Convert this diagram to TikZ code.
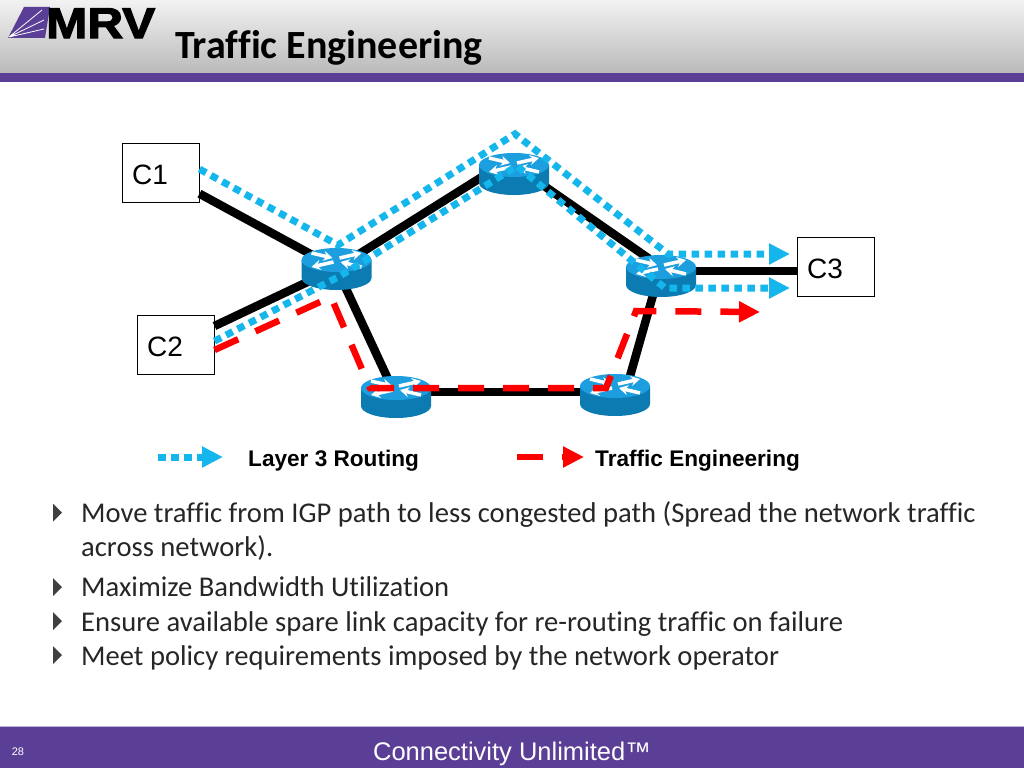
\documentclass[tikz,border=0pt]{standalone}
\usepackage{fontspec}
\setmainfont[Ligatures=NoCommon]{Carlito}
\newfontfamily\arialfont{Liberation Sans}
\newfontfamily\logofont[FakeBold=3,FakeStretch=1.15]{Liberation Sans Bold}
\usetikzlibrary{arrows.meta,shadings}
\definecolor{mrvpurple}{HTML}{5B3E96}
\definecolor{routecyan}{HTML}{14B6EC}
\definecolor{routertop}{HTML}{1D9EDF}
\definecolor{routerside}{HTML}{0B7BB2}
\newcommand{\custlabel}[1]{\hspace*{-21pt}#1}
\tikzset{
  custbox/.style={draw=black, line width=1pt, fill=white, minimum width=77pt, minimum height=59pt, inner sep=0pt, text height=23.5pt, text depth=0pt, font=\arialfont\fontsize{28}{30}\selectfont},
  routernode/.style={minimum width=24pt, minimum height=16pt, inner sep=0pt},
  link/.style={line width=8.5pt, black},
  igppath/.style={line width=7pt, routecyan, dash pattern=on 7.5pt off 5.5pt, -{Triangle[length=21pt,width=20pt]}},
  tepath/.style={line width=6.5pt, red, dash pattern=on 26pt off 19pt, -{Triangle[length=21pt,width=20pt]}},
  legendtext/.style={anchor=base west, inner sep=0pt, font=\arialfont\bfseries\fontsize{22.6}{26}\selectfont},
  bullettext/.style={anchor=base west, inner sep=0pt, text=black!85, font=\fontsize{28.6}{30}\selectfont},
  routerarrow/.style={white, line width=3.5pt, -{Stealth[length=9pt,width=10pt]}},
  pics/routericon/.style={code={
    \fill[routerside] (-35,0) -- (-35,18) arc[start angle=180, end angle=0, x radius=35, y radius=12] -- (35,0) -- cycle;
    \fill[routertop] (0,0) ellipse[x radius=35, y radius=12];
    \draw[routerarrow] (-25,-7) -- (-4,-2);
    \draw[routerarrow] (25,7) -- (4,2);
    \draw[routerarrow] (3,-2) -- (25,-7);
    \draw[routerarrow] (-3,2) -- (-25,7);
  }}
}
\begin{document}
\begin{tikzpicture}[x=1pt, y=-1pt]
  \useasboundingbox (0,0) rectangle (1024,768);

  % Header and footer bands
  \shade[top color=black!5, bottom color=black!27] (0,0) rectangle (1024,73);
  \fill[mrvpurple] (0,73) rectangle (1024,82);
  \fill[mrvpurple!40] (0,726) rectangle (1024,727);
  \fill[mrvpurple] (0,727) rectangle (1024,768);

  % Logo
  \fill[mrvpurple] (8,38) -- (24,7) -- (50,7) -- (45,38) -- cycle;
  \draw[white, line width=0.8pt] (9,37) -- (42,10) (9,37) -- (44,20) (9,37) -- (44,29);
  \node[anchor=base west, inner sep=0pt] (logo) at (46,38) {\logofont\fontsize{43}{43}\selectfont MRV};

  % Title and footer text
  \node[anchor=base west, inner sep=0pt, font=\bfseries\fontsize{40}{44}\selectfont] (title) at (175,59) {Traffic Engineering};
  \node[anchor=base, inner sep=0pt, white, font=\arialfont\fontsize{25.5}{28}\selectfont] (motto) at (512,760) {Connectivity Unlimited™};
  \node[anchor=base, inner sep=0pt, white, font=\arialfont\fontsize{11}{12}\selectfont] (pageno) at (18,755) {28};

  % Customers
  \node[custbox] (c1) at (160.5,172.5) {\custlabel{C1}};
  \node[custbox] (c2) at (175.5,344.5) {\custlabel{C2}};
  \node[custbox] (c3) at (835.5,267) {\custlabel{C3}};

  % Routers
  \node[routernode] (r1) at (336.5,260) {};
  \node[routernode] (r2) at (514,165) {};
  \node[routernode] (r3) at (661,267) {};
  \node[routernode] (r4) at (396,388) {};
  \node[routernode] (r5) at (615,386) {};

  % Draw the links
  \coordinate (c3in) at (797,271);
  \draw[link] (c1) -- (r1.south);
  \draw[link] (c2) -- (r1.south);
  \draw[link] (r1.south) -- (r2.north);
  \draw[link] (r2) -- (r3);
  \draw[link] (r3 |- c3in) -- (c3in);
  \draw[link] (r1.south) -- (r4.south);
  \draw[link] (r3) -- (r5.east);
  \draw[link] (r4 |- 0,392) -- (r5 |- 0,392);
  \foreach \rname in {r1,r2,r3,r4,r5}
    \pic at (\rname) {routericon};

  % Layer 3 paths
  \coordinate (upa) at (338,245);
  \coordinate (upb) at (515,134);
  \coordinate (upc) at (668,254);
  \coordinate (upend) at (790,254);
  \coordinate (loa) at (340,276);
  \coordinate (lob) at (517,166);
  \coordinate (loc) at (665,288);
  \coordinate (loend) at (790,288);
  \draw[igppath] (c1.5) -- (upa) -- (upb) -- (upc) -- (upend);
  \draw[igppath] (c2.5) -- (loa) -- (lob) -- (loc) -- (loend);

  % Traffic engineered path
  \coordinate (tea) at (331,297);
  \coordinate (teb) at (370,388);
  \coordinate (tec) at (606,388);
  \coordinate (ted) at (636,311);
  \coordinate (teend) at (760,312);
  \draw[tepath] (c2.-8) -- (tea) -- (teb) -- (tec) -- (ted) -- (teend);

  % Legend
  \coordinate (keya) at (158,457);
  \coordinate (keyb) at (223,457);
  \coordinate (keyc) at (517,457);
  \coordinate (keyd) at (584,457);
  \draw[igppath] (keya) -- (keyb);
  \draw[tepath] (keyc) -- (keyd);
  \node[legendtext] (keyigp) at (248,466) {Layer 3 Routing};
  \node[legendtext] (keyte) at (595,466) {Traffic Engineering};

  % Bullets
  \foreach \by in {512.5,587,621,655}
    \fill[black!75] (53,\by-9) -- (62,\by) -- (53,\by+9) -- cycle;
  \node[bullettext] (ba) at (81,522) {Move traffic from IGP path to less congested path (Spread the network traffic};
  \node[bullettext] (bb) at (81,556) {across network).};
  \node[bullettext] (bc) at (81,596) {Maximize Bandwidth Utilization};
  \node[bullettext] (bd) at (81,631) {Ensure available spare link capacity for re-routing traffic on failure};
  \node[bullettext] (be) at (81,665) {Meet policy requirements imposed by the network operator};
\end{tikzpicture}
\end{document}
